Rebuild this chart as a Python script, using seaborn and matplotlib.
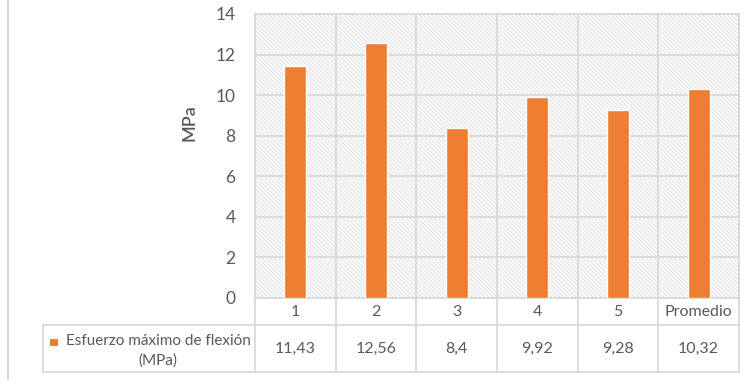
import matplotlib
matplotlib.use("Agg")
import matplotlib.pyplot as plt
import matplotlib.transforms as mtransforms
from matplotlib.lines import Line2D
from matplotlib.patches import Rectangle
import seaborn as sns
import pandas as pd

# Data
categories = ["1", "2", "3", "4", "5", "Promedio"]
values = [11.43, 12.56, 8.4, 9.92, 9.28, 10.32]
series_name = "Esfuerzo máximo de flexión\n(MPa)"
y_label = "MPa"
y_ticks = [0, 2, 4, 6, 8, 10, 12, 14]

df = pd.DataFrame({"cat": categories, "val": values})

sns.set_theme(style="white")
plt.rcParams["font.family"] = ["Lato", "DejaVu Sans"]
plt.rcParams["hatch.linewidth"] = 0.65
plt.rcParams["hatch.color"] = "#dadada"

W, H = 749, 380
DPI = 100
fig = plt.figure(figsize=(W / DPI, H / DPI), dpi=DPI)
fig.patch.set_facecolor("white")

def fx(px):
    return px / W

def fy(py):
    return 1 - py / H

ax_left, ax_right, ax_top, ax_bot = 255, 739, 14, 298
ax = fig.add_axes([fx(ax_left), fy(ax_bot), fx(ax_right - ax_left), (ax_bot - ax_top) / H])

TEXT = "#595959"
GRID = "#d9d9d9"
BAR = "#ED7D31"

# hatched plot background
bg = Rectangle((0, 0), 1, 1, transform=ax.transAxes, facecolor="white",
               edgecolor="#dadada", hatch="\\" * 8, linewidth=0, zorder=0)
ax.add_patch(bg)

sns.barplot(data=df, x="cat", y="val", color=BAR, width=0.27, ax=ax,
            saturation=1, zorder=3)

ax.set_xlim(-0.5, len(categories) - 0.5)
ax.set_ylim(0, 14)
ax.set_yticks(y_ticks)
ax.set_yticklabels([str(t) for t in y_ticks])
ax.set_xlabel("")
ax.set_ylabel("")

# gridlines
for t in y_ticks:
    ax.axhline(t, color=GRID, linewidth=1.3, zorder=1)
for i in range(len(categories) + 1):
    ax.axvline(i - 0.5, color=GRID, linewidth=1.3, zorder=1)

for s in ax.spines.values():
    s.set_color(GRID)
    s.set_linewidth(1.3)

ax.tick_params(axis="y", length=0, pad=14, labelsize=12.5, labelcolor=TEXT)
ax.tick_params(axis="x", length=0, pad=5, labelsize=11.5, labelcolor=TEXT)

fig.text(fx(190), fy(123), y_label, rotation=90, ha="center", va="center",
         fontsize=13, color=TEXT, fontweight="semibold")

# data table below the axis
ax_h = ax_bot - ax_top
def ay(py):
    return -(py - ax_bot) / ax_h

blend = mtransforms.blended_transform_factory(ax.transData, ax.transAxes)
row_mid, row_bot = 325, 372
for i in range(len(categories) + 1):
    ax.add_line(Line2D([i - 0.5, i - 0.5], [ay(ax_bot), ay(row_bot)], transform=blend,
                       color=GRID, linewidth=1.3, clip_on=False))

fig.add_artist(Line2D([fx(43), fx(ax_right)], [fy(row_mid), fy(row_mid)],
                      color=GRID, linewidth=1.3))
fig.add_artist(Line2D([fx(43), fx(ax_right)], [fy(row_bot), fy(row_bot)],
                      color=GRID, linewidth=1.3))
fig.add_artist(Line2D([fx(43), fx(43)], [fy(row_mid), fy(row_bot)],
                      color=GRID, linewidth=1.3))

for i, v in enumerate(values):
    ax.text(i, ay(349), f"{v:g}".replace(".", ","), transform=blend,
            ha="center", va="center", fontsize=11.5, color=TEXT, clip_on=False)

fig.add_artist(Rectangle((fx(50), fy(346)), fx(7.5), 7.5 / H, facecolor=BAR,
                         edgecolor="none"))
fig.text(fx(158), fy(350.5), series_name, ha="center", va="center",
         fontsize=11, color=TEXT, linespacing=1.45, multialignment="center")

# outer chart border
fig.add_artist(Line2D([fx(7.5), fx(7.5)], [0, 1], color=GRID, linewidth=1.5))

fig.savefig("out.png", dpi=DPI, facecolor="white")
